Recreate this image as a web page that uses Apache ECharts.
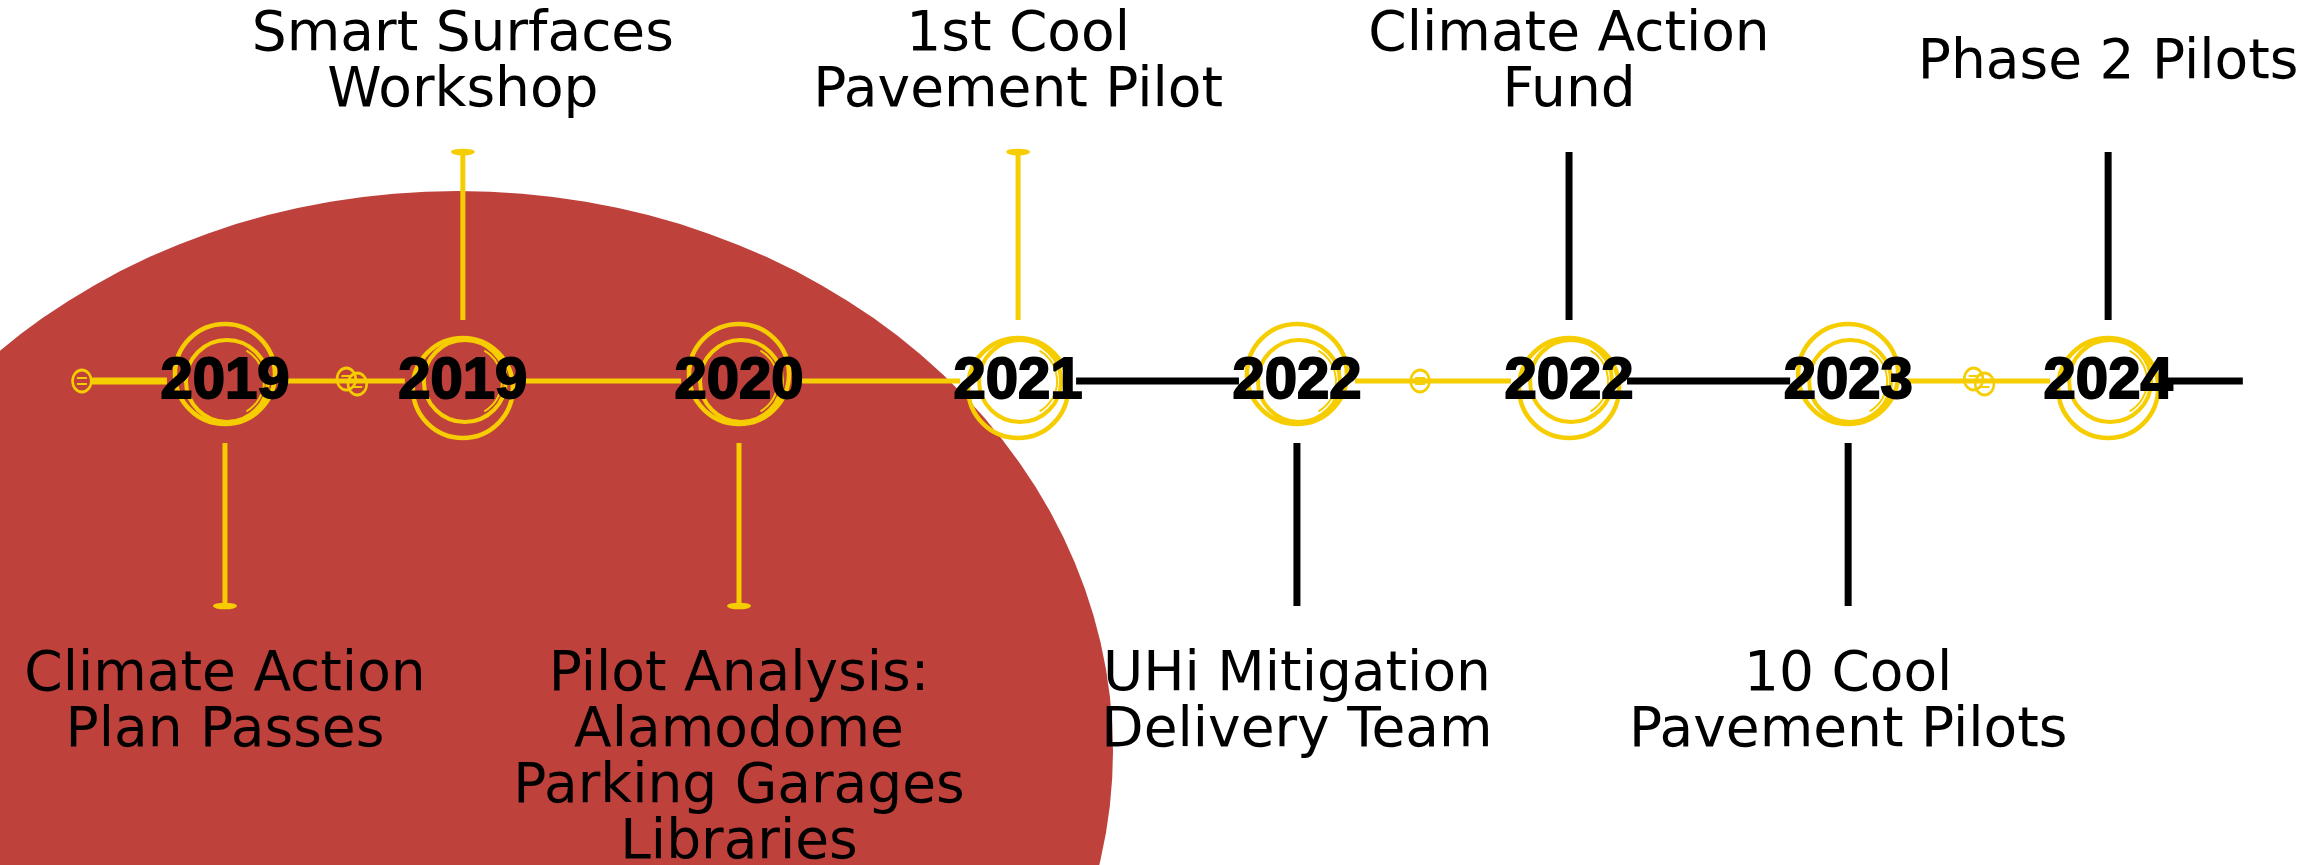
<!DOCTYPE html>
<html>
<head>
<meta charset="utf-8">
<style>
html,body{margin:0;padding:0;background:#ffffff;}
#chart{width:2318px;height:865px;}
</style>
<script src="https://cdn.jsdelivr.net/npm/echarts@6/dist/echarts.min.js"></script>
</head>
<body>
<div id="chart"></div>
<script>
// ---- data ----
const years = ['2019', '2019', '2020', '2021', '2022', '2022', '2023', '2024'];
const milestones = [
  'Climate Action\nPlan Passes',
  'Smart Surfaces\nWorkshop',
  'Pilot Analysis:\nAlamodome\nParking Garages\nLibraries',
  '1st Cool\nPavement Pilot',
  'UHi Mitigation\nDelivery Team',
  'Climate Action\nFund',
  '10 Cool\nPavement Pilots',
  'Phase 2 Pilots'
];
// position of each milestone along the timeline (timeline steps)
const positions = [0, 0.883, 1.908, 2.944, 3.979, 4.989, 6.025, 6.990];
const sides = ['below', 'above', 'below', 'above', 'below', 'above', 'below', 'above'];
const connectorInk = ['yellow', 'yellow', 'yellow', 'yellow', 'black', 'black', 'black', 'black'];
const lineStart = -0.531;
const lineEnd = 7.49;
const segmentInk = ['yellow', 'yellow', 'yellow', 'yellow', 'black', 'yellow', 'black', 'yellow', 'black'];
const splices = [-0.531, 0.471, 4.436, 6.511];
const spliceCount = [1, 2, 1, 2];

// ---- styling ----
const YELLOW = '#F6CD00';
const BLACK = '#000000';
const RED = '#BF413C';
const YEAR_HALF_WIDTH = 58;

const linePoints = [lineStart].concat(positions, [lineEnd]);
const segments = linePoints.slice(0, -1).map((p, i) => [p, linePoints[i + 1]]);

const chart = echarts.init(document.getElementById('chart'), null, {renderer: 'canvas'});

const option = {
  backgroundColor: '#ffffff',
  animation: false,
  grid: {left: 0, right: 0, top: 0, bottom: 103},
  xAxis: {type: 'value', min: -0.835, max: 7.769, show: false},
  yAxis: {type: 'value', min: -1, max: 1, show: false},
  graphic: [{
    type: 'circle',
    x: 458, y: 751,
    scaleY: 560 / 655,
    shape: {cx: 0, cy: 0, r: 655},
    style: {fill: RED},
    z: -10,
    silent: true
  }],
  series: [
    {
      type: 'custom',
      name: 'timeline',
      coordinateSystem: 'cartesian2d',
      clip: false,
      z: 2,
      data: segments,
      encode: {x: [0, 1]},
      renderItem: function (params, api) {
        const i = params.dataIndex;
        const a = api.coord([api.value(0), 0]);
        const b = api.coord([api.value(1), 0]);
        const x1 = a[0] + (i === 0 ? 9 : YEAR_HALF_WIDTH);
        const x2 = b[0] - (i === segments.length - 1 ? 0 : YEAR_HALF_WIDTH);
        const yellow = segmentInk[i] === 'yellow';
        return {
          type: 'line',
          shape: {x1: x1, y1: a[1], x2: x2, y2: b[1]},
          style: {stroke: yellow ? YELLOW : BLACK, lineWidth: yellow ? (i === 0 ? 7 : 5) : 7, lineCap: 'butt'}
        };
      }
    },
    {
      type: 'custom',
      name: 'splices',
      coordinateSystem: 'cartesian2d',
      clip: false,
      z: 3,
      data: splices.map(p => [p, 0]),
      encode: {x: 0, y: 1},
      renderItem: function (params, api) {
        const c = api.coord([api.value(0), 0]);
        const n = spliceCount[params.dataIndex];
        const children = [];
        for (let k = 0; k < n; k++) {
          const cx = c[0] + (k - (n - 1) / 2) * 11;
          const cy = c[1] + (n > 1 ? (k === 0 ? -2 : 3) : 0);
          children.push({
            type: 'circle', x: cx, y: cy, scaleX: 0.85,
            shape: {cx: 0, cy: 0, r: 11},
            style: {fill: 'none', stroke: YELLOW, lineWidth: 3}
          });
          children.push({type: 'line', shape: {x1: cx - 5, y1: cy - 3, x2: cx + 5, y2: cy - 3}, style: {stroke: YELLOW, lineWidth: 2}});
          children.push({type: 'line', shape: {x1: cx - 5, y1: cy + 3, x2: cx + 5, y2: cy + 3}, style: {stroke: YELLOW, lineWidth: 2}});
        }
        return {type: 'group', children: children};
      }
    },
    {
      type: 'custom',
      name: 'milestones',
      coordinateSystem: 'cartesian2d',
      clip: false,
      z: 4,
      data: positions.map(p => [p, 0]),
      encode: {x: 0, y: 1},
      renderItem: function (params, api) {
        const i = params.dataIndex;
        const c = api.coord([api.value(0), 0]);
        const x = c[0], y = c[1];
        const up = sides[i] === 'above';
        const yellow = connectorInk[i] === 'yellow';
        const ink = yellow ? YELLOW : BLACK;
        const children = [];
        // hand-drawn style rings
        children.push({type: 'circle', shape: {cx: x, cy: y + (up ? 7 : -7), r: 50},
          style: {fill: 'none', stroke: YELLOW, lineWidth: 4.5}});
        children.push({type: 'circle', shape: {cx: x + 2, cy: y, r: 41},
          style: {fill: 'none', stroke: YELLOW, lineWidth: 4}});
        children.push({type: 'arc', shape: {cx: x + 4, cy: y, r: 35, startAngle: -Math.PI / 3, endAngle: Math.PI / 3},
          style: {fill: 'none', stroke: YELLOW, lineWidth: 2}});
        // connector
        const y1 = up ? y - 61 : y + 62;
        const y2 = up ? y - 229 : y + 225;
        children.push({type: 'line', shape: {x1: x, y1: y1, x2: x, y2: y2},
          style: {stroke: ink, lineWidth: yellow ? 5 : 7}});
        if (yellow) {
          children.push({type: 'circle', x: x, y: y2, scaleY: 0.28,
            shape: {cx: 0, cy: 0, r: 12}, style: {fill: YELLOW}});
        }
        // year
        children.push({type: 'text', x: x, y: y + 1,
          style: {text: years[i], fontFamily: 'Liberation Sans', fontWeight: 'bold', fontSize: 58,
            fill: BLACK, stroke: BLACK, lineWidth: 2, align: 'center', verticalAlign: 'middle'}});
        // milestone label
        children.push({type: 'text', x: x, y: up ? y - 317 : y + 267,
          style: {text: milestones[i], fontFamily: 'DejaVu Sans', fontSize: 55, lineHeight: 56,
            fill: BLACK, align: 'center', verticalAlign: up ? 'middle' : 'top'}});
        return {type: 'group', children: children};
      }
    }
  ]
};
chart.setOption(option);
</script>
</body>
</html>
